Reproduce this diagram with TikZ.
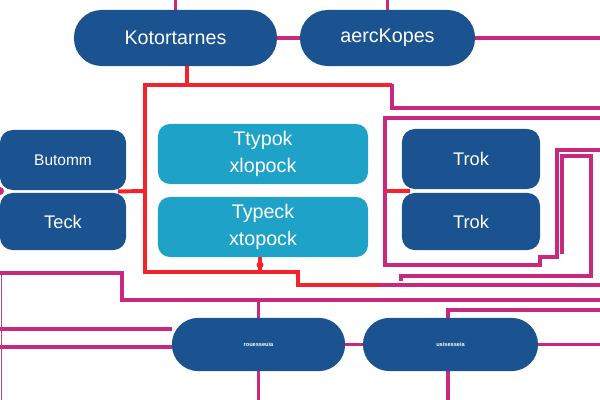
\documentclass[tikz,border=0pt]{standalone}
\usepackage{fontspec}
\setmainfont{Liberation Sans}
\usetikzlibrary{backgrounds,calc}
\definecolor{pillblue}{HTML}{1B5391}
\definecolor{boxteal}{HTML}{1FA2C8}
\definecolor{framered}{HTML}{F4222A}
\definecolor{wiremag}{HTML}{C8297F}

\begin{document}
\begin{tikzpicture}[x=0.025cm,y=-0.025cm,
  pill/.style={fill=pillblue,text=white,inner sep=0pt,minimum height=1.4cm,rounded corners=0.69cm},
  blockbox/.style={fill=pillblue,text=white,inner sep=0pt,rounded corners=0.32cm},
  tealbox/.style={fill=boxteal,text=white,inner sep=0pt,align=center,minimum width=5.25cm,minimum height=1.5cm,rounded corners=0.3cm},
  wire/.style={wiremag,line width=2.4pt},
  redwire/.style={framered,line width=2.8pt}]
\useasboundingbox (0,0) rectangle (600,400);
% top row
\node[pill,minimum width=5.075cm,font=\fontsize{14}{16}\selectfont] (kot) at (175.5,38) {Kotortarnes};
\node[pill,minimum width=4.375cm,font=\fontsize{14}{16}\selectfont] (aer) at (387.5,38) {aercKopes};
% left and right blocks
\node[blockbox,minimum width=3.15cm,minimum height=1.5cm,font=\fontsize{11}{13}\selectfont] (but) at (63,160) {Butomm};
\node[blockbox,minimum width=3.15cm,minimum height=1.43cm,font=\fontsize{13}{15}\selectfont] (teck) at (63,221.5) {Teck};
\node[blockbox,minimum width=3.45cm,minimum height=1.5cm,font=\fontsize{13}{15}\selectfont] (trokA) at (471,159) {Trok};
\node[blockbox,minimum width=3.45cm,minimum height=1.43cm,font=\fontsize{13}{15}\selectfont] (trokB) at (471,221.5) {Trok};
% centre
\node[tealbox,font=\fontsize{14}{19}\selectfont] (typA) at (263,154) {Ttypok\\xlopock};
\node[tealbox,font=\fontsize{14}{19}\selectfont] (typB) at (263,227) {Typeck\\xtopock};
% bottom row
\node[pill,minimum width=4.33cm,minimum height=1.33cm,rounded corners=0.66cm,font=\fontsize{4}{5}\selectfont\bfseries] (botA) at (258.5,344.5) {rouesseuia};
\node[pill,minimum width=4.375cm,minimum height=1.33cm,rounded corners=0.66cm,font=\fontsize{4}{5}\selectfont\bfseries] (botB) at (450.5,344.5) {usisesseia};
\begin{scope}[on background layer]
\coordinate (junL) at ($(but.south east)!0.5!(teck.north east)$);
\coordinate (junR) at ($(trokA.south west)!0.5!(trokB.north west)$);
\draw[wire] (kot.north) -- (kot.north |- 0,0);
\draw[wire] (aer.north) -- (aer.north |- 0,0);
\draw[wire] (kot.east) -- (aer.west);
\draw[wire] (aer.east) -- (600,38);
% red frame
\draw[redwire] (kot.south -| 187,0) -- (187,85);
\draw[redwire] (392,85) -- (145,85) -- (145,272) -- (298,272) -- (298,285) -- (380,285);
\draw[wire] (392,84) -- (392,108) -- (600,108);
\draw[wire] (379,285) -- (600,285);
\draw[redwire] ([xshift=-6]junL) -- (145,191);
\draw[redwire] (385,191) -- ([xshift=6]junR);
\draw[redwire] (typB.south -| 260,0) -- (260,272);
\fill[framered] (260,265) circle (3.5);
% right wiring
\draw[wire] (600,118) -- (385,118) -- (385,265) -- (540,265) -- (540,257) -- (557,257) -- (557,150) -- (600,150);
\draw[wire] (401,281) -- (401,276) -- (591,276) -- (591,156) -- (562,156) -- (562,254);
% lower wiring
\draw[wire] (0,273) -- (122,273) -- (122,300) -- (600,300);
\draw[wire] (448,400) -- (448,310) -- (600,310);
\draw[wire] (botA.north) -- (botA.north |- 0,300);
\draw[wire] (botA.south) -- (botA.south |- 0,400);
\draw[wire] (botA.east) -- (botB.west);
\draw[wire] (botB.east) -- (600,344.5);
\draw[wire] (0,329) -- (botA.west |- 0,329);
\draw[wire] (0,347) -- (botA.west |- 0,347);
\draw[wiremag!60!gray,line width=1.2pt] (1.5,275) -- (1.5,400);
\fill[wiremag] (0,191) circle (4);
\end{scope}
\end{tikzpicture}
\end{document}
